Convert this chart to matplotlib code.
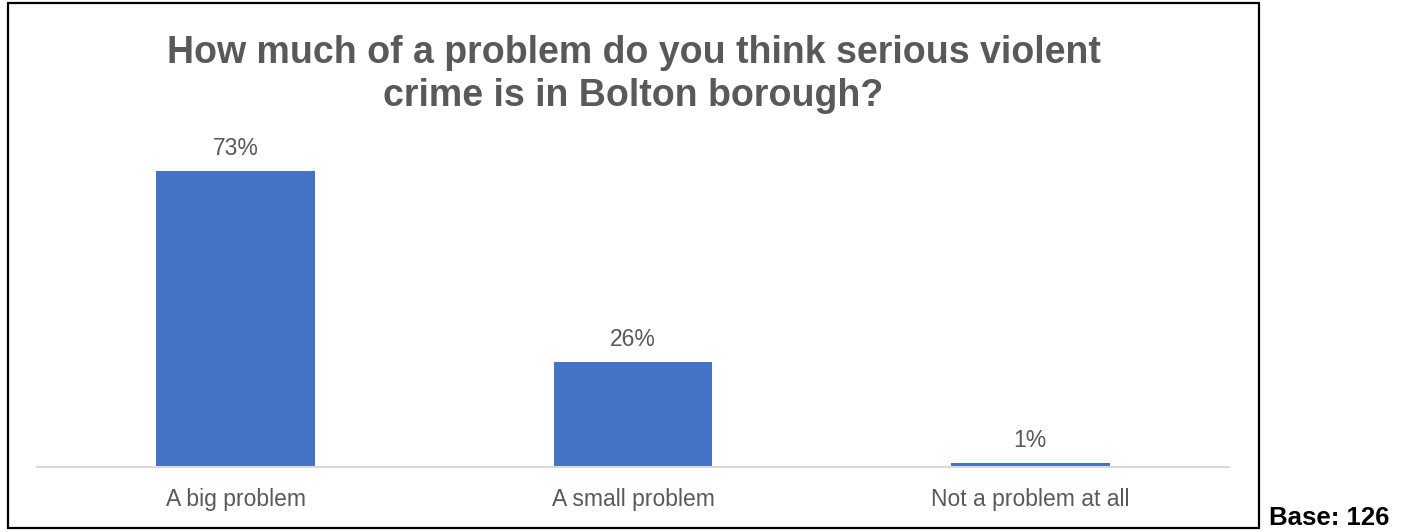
from matplotlib import pyplot as plt
from matplotlib.patches import Rectangle

# dados do grafico
categorias = ["A big problem", "A small problem", "Not a problem at all"]
percentuais = [73, 26, 1]
titulo = "How much of a problem do you think serious violent\ncrime is in Bolton borough?"
base_texto = "Base: 126"

AZUL = "#4472C4"
CINZA = "#595959"

plt.rcParams['font.family'] = ['Liberation Sans', 'DejaVu Sans']

fig = plt.figure(figsize=(14.1, 5.32), dpi=100)
ax = fig.add_axes([0.02624, 0.1222, 0.8454, 0.609])

x = range(len(categorias))
barras = ax.bar(x, percentuais, width=0.4, color=AZUL)
for barra, valor in zip(barras, percentuais):
    ax.annotate(f"{valor}%", (barra.get_x() + barra.get_width() / 2, valor),
                xytext=(0, 8), textcoords="offset points",
                ha="center", va="bottom", fontsize=16.5, color=CINZA)

ax.set_xlim(-0.5, 2.5)
ax.set_ylim(0, 80)
ax.set_xticks(list(x))
ax.set_xticklabels(categorias, fontsize=16.5, color=CINZA)
ax.tick_params(axis="x", length=0, pad=15)
ax.set_yticks([])
for lado in ["top", "right", "left"]:
    ax.spines[lado].set_visible(False)
ax.spines["bottom"].set_color("#D9D9D9")
ax.spines["bottom"].set_linewidth(1.5)

# moldura e titulo
fig.patches.append(Rectangle((0.00567, 0.0075), 0.8872, 0.987, transform=fig.transFigure,
                             fill=False, edgecolor="black", linewidth=1.6))
fig.text(0.4493, 0.86, titulo, ha="center", va="center", fontsize=27,
         fontweight="bold", color=CINZA, linespacing=1.22)
fig.text(0.9, 0.003, base_texto, ha="left", va="bottom", fontsize=18.5,
         fontweight="bold", color="black")

plt.savefig("out.png", dpi=100)
